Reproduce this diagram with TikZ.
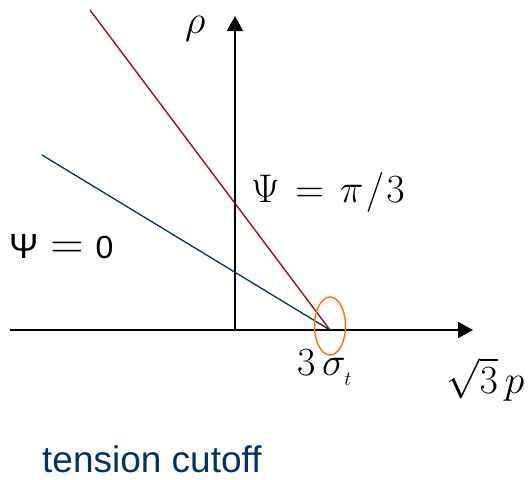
\documentclass[tikz,border=0pt]{standalone}
\usepackage{fix-cm}
\usepackage{fontspec}
\setmainfont{Liberation Sans}
\usetikzlibrary{arrows.meta,shapes.geometric}
\definecolor{redline}{RGB}{160,0,0}
\definecolor{blueline}{RGB}{0,51,102}
\definecolor{orangec}{RGB}{255,120,0}
\begin{document}
\begin{tikzpicture}[x=1pt,y=-1pt,
  axis/.style={line width=1.6pt,-{Triangle[length=15pt,width=16pt]}},
  lbl/.style={inner sep=0pt,anchor=base west}]
\useasboundingbox (0,0) rectangle (531,480);
\coordinate (o) at (235,330);
\coordinate (xs) at (10,330);
\coordinate (xe) at (473,330);
\coordinate (ye) at (235,16);
\coordinate (c) at (330,330);
\coordinate (r0) at (90,10);
\coordinate (b0) at (42,155);
\draw[axis] (xs) -- (xe);
\draw[axis] (o) -- (ye);
\draw[redline,line width=1.3pt] (r0) -- (c);
\draw[blueline,line width=1.3pt] (b0) -- (c);
\node[draw=orangec,line width=1.5pt,ellipse,minimum width=31pt,minimum height=58pt,inner sep=0pt] (ell) at (330,326) {};
\node[lbl] (rho) at (185,33) {\fontsize{40}{40}\selectfont$\rho$};
\node[lbl] (psi0) at (9,258) {\fontsize{35}{35}\selectfont Ψ\hspace{12pt}{\fontsize{46}{46}\selectfont$=$}\hspace{12pt}{\fontsize{32}{32}\selectfont 0}};
\node[lbl] (psipi) at (251,202) {\fontsize{40}{40}\selectfont$\Psi\mskip2mu=\mskip2mu\pi\mskip1mu/\mskip1mu3$};
\node[lbl] (sig) at (297,375) {\fontsize{40}{40}\selectfont$3\,\sigma_{_t}$};
\node[lbl] (sp) at (446,393) {\fontsize{40}{40}\selectfont$\sqrt{3}\,p$};
\node[lbl,text=blueline] (tc) at (42,472) {\fontsize{37}{37}\selectfont tension cutoff};
\end{tikzpicture}
\end{document}
